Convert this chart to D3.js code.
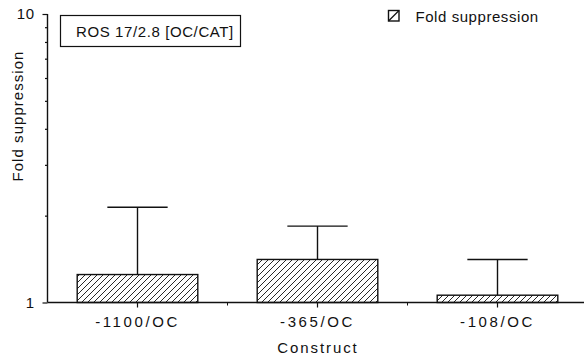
<!DOCTYPE html>
<html>
<head>
<meta charset="utf-8">
<script src="https://cdn.jsdelivr.net/npm/d3@7"></script>
<style>
  body { margin: 0; background: #fff; }
  text { font-family: "Liberation Sans", Arial, sans-serif; fill: #111; }
</style>
</head>
<body>
<svg id="chart"></svg>
<script>
// data
const constructs = ["-1100/OC", "-365/OC", "-108/OC"];
const foldSuppression = [1.25, 1.41, 1.06];
const errorTop = [2.14, 1.84, 1.41];
const yTicks = [1, 2, 3, 4, 5, 6, 7, 8, 9, 10];

const width = 584, height = 358;
const svg = d3.select("#chart").attr("width", width).attr("height", height);

// hatch pattern
const defs = svg.append("defs");
defs.append("pattern")
  .attr("id", "hatch")
  .attr("patternUnits", "userSpaceOnUse")
  .attr("width", 6)
  .attr("height", 6)
  .append("path")
  .attr("d", "M-1,1 l2,-2 M0,6 l6,-6 M5,7 l2,-2")
  .attr("stroke", "#111")
  .attr("stroke-width", 0.9);

let x = d3.scaleBand().domain(constructs).range([47.5, 587.5]).padding(0);
let y = d3.scaleLog().domain([1, 10]).range([302.5, 14]);
let barW = x.bandwidth() * 0.67;

// y axis
let yAxis = svg.append("g")
  .attr("transform", "translate(47.5,0)")
  .call(d3.axisLeft(y).tickValues(yTicks).tickSize(5).tickPadding(8)
    .tickFormat(d => (d === 1 || d === 10) ? d : ""));
yAxis.select(".domain").attr("d", "M0," + y(10) + "V" + y(1)).attr("stroke", "#111").attr("stroke-width", 1.4);
yAxis.selectAll(".tick line")
  .attr("stroke", "#111")
  .attr("stroke-width", 1.2)
  .attr("x2", d => (d === 1 || d === 10) ? -5 : -2.5);
yAxis.selectAll(".tick text")
  .style("font-size", "15px")
  .style("letter-spacing", "0.5px")
  .style("font-family", "Liberation Sans, Arial, sans-serif")
  .attr("fill", "#111");

// x axis
let xAxis = svg.append("g")
  .attr("transform", "translate(0," + y(1) + ")")
  .call(d3.axisBottom(x).tickSize(5).tickPadding(9));
xAxis.select(".domain").attr("d", "M47.5,0H584").attr("stroke", "#111").attr("stroke-width", 1.6);
xAxis.selectAll(".tick line").attr("stroke", "#111").attr("stroke-width", 1.2);
xAxis.selectAll(".tick text")
  .style("font-size", "15px")
  .style("letter-spacing", "2.6px")
  .style("font-family", "Liberation Sans, Arial, sans-serif")
  .attr("fill", "#111");
// band boundary ticks
xAxis.selectAll(".bound")
  .data(constructs.slice(1))
  .join("line")
  .attr("class", "bound")
  .attr("x1", d => x(d)).attr("x2", d => x(d))
  .attr("y1", 0).attr("y2", 3)
  .attr("stroke", "#111")
  .attr("stroke-width", 1);

// error whiskers
let bars = svg.append("g");
bars.selectAll("line.err")
  .data(constructs)
  .join("line")
  .attr("class", "err")
  .attr("x1", d => x(d) + x.bandwidth() / 2)
  .attr("x2", d => x(d) + x.bandwidth() / 2)
  .attr("y1", (d, i) => y(foldSuppression[i]))
  .attr("y2", (d, i) => y(errorTop[i]))
  .attr("stroke", "#111")
  .attr("stroke-width", 1.4);
bars.selectAll("line.cap")
  .data(constructs)
  .join("line")
  .attr("class", "cap")
  .attr("x1", d => x(d) + x.bandwidth() / 2 - barW / 4)
  .attr("x2", d => x(d) + x.bandwidth() / 2 + barW / 4)
  .attr("y1", (d, i) => y(errorTop[i]))
  .attr("y2", (d, i) => y(errorTop[i]))
  .attr("stroke", "#111")
  .attr("stroke-width", 1.4);

// bars
bars.selectAll("rect")
  .data(constructs)
  .join("rect")
  .attr("x", d => x(d) + (x.bandwidth() - barW) / 2)
  .attr("width", barW)
  .attr("y", (d, i) => y(foldSuppression[i]))
  .attr("height", (d, i) => y(1) - y(foldSuppression[i]))
  .attr("fill", "url(#hatch)")
  .attr("stroke", "#111")
  .attr("stroke-width", 1.4);

// axis titles
svg.append("text")
  .attr("transform", "translate(23,116) rotate(-90)")
  .attr("text-anchor", "middle")
  .style("font-size", "15px")
  .style("letter-spacing", "1.05px")
  .text("Fold suppression");

svg.append("text")
  .attr("x", 318)
  .attr("y", 352.5)
  .attr("text-anchor", "middle")
  .style("font-size", "15px")
  .style("letter-spacing", "1.9px")
  .text("Construct");

// title box
svg.append("rect")
  .attr("x", 60.5).attr("y", 15.5)
  .attr("width", 180).attr("height", 31)
  .attr("fill", "none")
  .attr("stroke", "#111")
  .attr("stroke-width", 1.2);
svg.append("text")
  .attr("x", 76)
  .attr("y", 37)
  .style("font-size", "15px")
  .style("letter-spacing", "0.6px")
  .text("ROS 17/2.8 [OC/CAT]");

// legend
let leg = svg.append("g").attr("transform", "translate(388.5,10.5)");
leg.append("rect")
  .attr("width", 10.5).attr("height", 10.5)
  .attr("fill", "#fff")
  .attr("stroke", "#111")
  .attr("stroke-width", 1.4);
leg.append("path")
  .attr("d", "M0,10.5L10.5,0")
  .attr("stroke", "#111")
  .attr("stroke-width", 1.2);
leg.append("text")
  .attr("x", 27)
  .attr("y", 11)
  .style("font-size", "15px")
  .style("letter-spacing", "0.56px")
  .text("Fold suppression");
</script>
</body>
</html>
